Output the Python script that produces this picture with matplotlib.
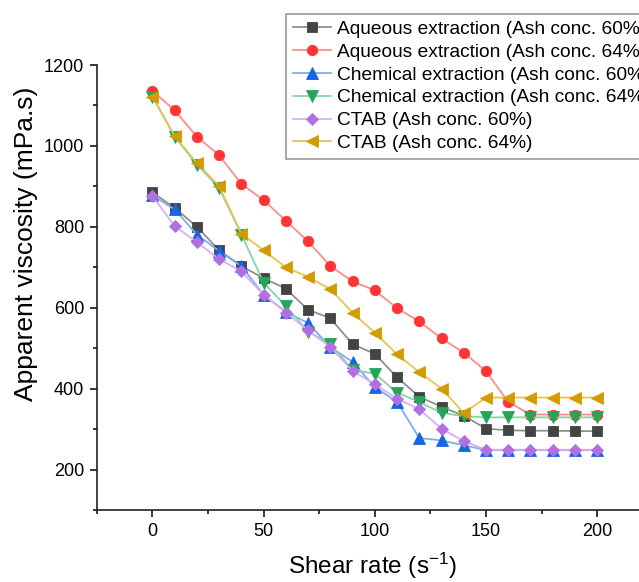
import matplotlib

matplotlib.use("Agg")
import matplotlib.pyplot as plt
from matplotlib.ticker import MultipleLocator

plt.rcParams["font.family"] = ["Liberation Sans", "DejaVu Sans"]
plt.rcParams["mathtext.fontset"] = "custom"
plt.rcParams["mathtext.rm"] = "Liberation Sans"
plt.rcParams["mathtext.it"] = "Liberation Sans:italic"

shear_rate = [0, 10, 20, 30, 40, 50, 60, 70, 80, 90, 100,
              110, 120, 130, 140, 150, 160, 170, 180, 190, 200]

aqueous_60 = [885, 847, 800, 742, 703, 673, 647, 595, 574, 510, 486,
              428, 380, 355, 333, 301, 297, 296, 296, 295, 295]
aqueous_64 = [1136, 1088, 1023, 977, 906, 866, 815, 764, 703, 665, 643,
              599, 566, 524, 489, 443, 367, 336, 336, 336, 336]
chemical_60 = [878, 843, 781, 740, 703, 632, 590, 562, 503, 466, 404,
               367, 278, 272, 260, 248, 248, 248, 248, 248, 248]
chemical_64 = [1122, 1023, 954, 896, 781, 662, 604, 541, 511, 446, 437,
               390, 367, 340, 332, 329, 329, 329, 329, 329, 329]
ctab_60 = [876, 802, 762, 720, 690, 632, 588, 544, 503, 444, 411,
           375, 349, 301, 270, 249, 249, 249, 249, 249, 249]
ctab_64 = [1122, 1025, 957, 901, 783, 742, 700, 676, 646, 588, 538,
           485, 441, 400, 340, 378, 378, 378, 378, 378, 378]

series = [
    ("Aqueous extraction (Ash conc. 60%)", aqueous_60, "s", "#444444", "#8f8f8f", 7),
    ("Aqueous extraction (Ash conc. 64%)", aqueous_64, "o", "#ff3535", "#ff8c8c", 7.5),
    ("Chemical extraction (Ash conc. 60%)", chemical_60, "^", "#1764e4", "#80adf0", 8),
    ("Chemical extraction (Ash conc. 64%)", chemical_64, "v", "#22a65a", "#86d4a6", 8),
    ("CTAB (Ash conc. 60%)", ctab_60, "D", "#b26fe2", "#d8b0f2", 6.5),
    ("CTAB (Ash conc. 64%)", ctab_64, "<", "#d39b00", "#e9c352", 8),
]

fig = plt.figure(figsize=(6.39, 5.82), dpi=100)
ax = fig.add_axes([96.8 / 639, 72 / 582, 556 / 639, 445 / 582])

for label, values, marker, color, line_color, size in series:
    ax.plot(shear_rate, values, color=line_color, linewidth=1.3, marker=marker,
            markersize=size, markerfacecolor=color, markeredgecolor=color,
            markeredgewidth=0.6, label=label)

ax.set_xlim(-25, 225)
ax.set_ylim(100, 1200)
ax.xaxis.set_major_locator(MultipleLocator(50))
ax.xaxis.set_minor_locator(MultipleLocator(25))
ax.yaxis.set_major_locator(MultipleLocator(200))
ax.yaxis.set_minor_locator(MultipleLocator(100))

for side in ("top", "right"):
    ax.spines[side].set_visible(False)
for side in ("left", "bottom"):
    ax.spines[side].set_linewidth(1.2)
    ax.spines[side].set_color("#222222")

ax.tick_params(which="major", direction="out", length=5, width=1.1, labelsize=13, pad=4)
ax.tick_params(which="minor", direction="out", length=3, width=1.1)

ax.set_ylabel("Apparent viscosity (mPa.s)", fontsize=19)
ax.yaxis.set_label_coords(-0.106, 0.598)
ax.set_xlabel("Shear rate (s$^{-1}$)", fontsize=17.5)
ax.xaxis.set_label_coords(0.495, -0.092)

handles, labels = ax.get_legend_handles_labels()
legend = fig.legend(handles, labels, loc="upper left",
                    bbox_to_anchor=(286 / 639, 1 - 14 / 582),
                    fontsize=13.8, frameon=True, fancybox=False,
                    borderpad=0.35, labelspacing=0.28, handlelength=2.0,
                    handletextpad=0.3, borderaxespad=0)
legend.get_frame().set_edgecolor("#808080")
legend.get_frame().set_linewidth(1.2)

fig.savefig("out.png", dpi=100)
